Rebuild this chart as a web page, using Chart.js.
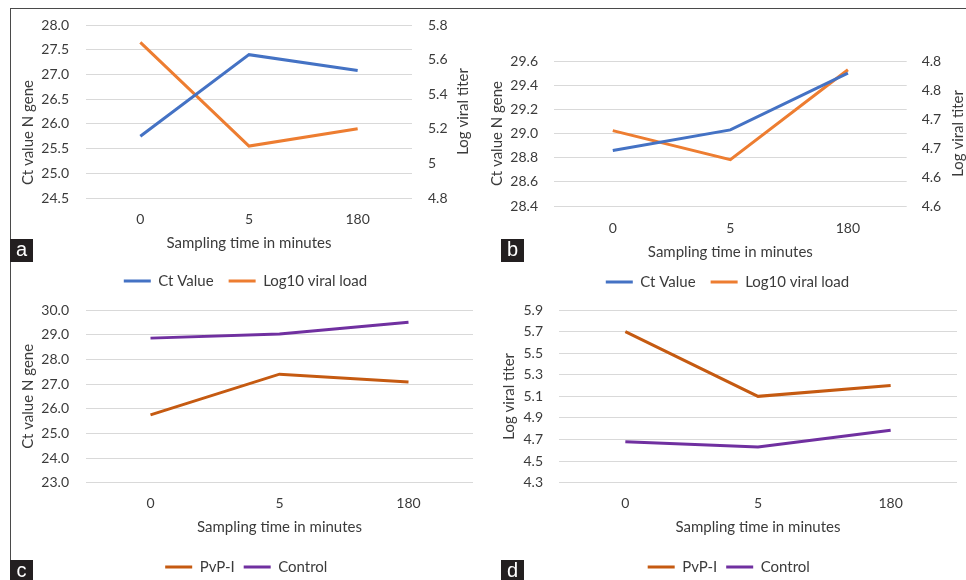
<!DOCTYPE html>
<html>
<head>
<meta charset="utf-8">
<script src="https://cdn.jsdelivr.net/npm/chart.js@4.4.1/dist/chart.umd.min.js"></script>
<style>
  html, body { margin: 0; padding: 0; background: #fff; }
  body { width: 966px; height: 580px; position: relative; overflow: hidden; }
  #frame { position: absolute; left: 10px; top: 8px; width: 970px; height: 590px;
           border-top: 1px solid #4a4a4a; border-left: 1px solid #4a4a4a; }
  canvas { position: absolute; }
  .tag { position: absolute; width: 23px; height: 23px; background: #231f20; color: #fff;
         font: 20px "Liberation Sans", Arial, sans-serif; line-height: 20px; text-align: center; }
</style>
</head>
<body>
<div id="frame"></div>
<canvas id="chartA" width="476" height="287" style="left:12px;top:10px"></canvas>
<canvas id="chartB" width="480" height="288" style="left:488px;top:10px"></canvas>
<canvas id="chartC" width="476" height="287" style="left:12px;top:296px"></canvas>
<canvas id="chartD" width="476" height="287" style="left:492px;top:296px"></canvas>
<div class="tag" style="left:10px;top:239px">a</div>
<div class="tag" style="left:501px;top:239px">b</div>
<div class="tag" style="left:10px;top:560px">c</div>
<div class="tag" style="left:501px;top:560px">d</div>
<script>
// sampling times (minutes)
const timeLabels = ['0', '5', '180'];

// PvP-I group
const ctPvpi = [25.75, 27.4, 27.08];
const logPvpi = [5.7, 5.1, 5.2];

// control group
const ctControl = [28.86, 29.03, 29.5];
const logControl = [4.68, 4.63, 4.785];

// y tick labels, bottom to top
const ctTicksA = ['24.5', '25.0', '25.5', '26.0', '26.5', '27.0', '27.5', '28.0'];
const logTicksA = ['4.8', '5', '5.2', '5.4', '5.6', '5.8'];
const ctTicksB = ['28.4', '28.6', '28.8', '29.0', '29.2', '29.4', '29.6'];
const logTicksB = ['4.6', '4.6', '4.7', '4.7', '4.8', '4.8'];
const ctTicksC = ['23.0', '24.0', '25.0', '26.0', '27.0', '28.0', '29.0', '30.0'];
const logTicksD = ['4.3', '4.5', '4.7', '4.9', '5.1', '5.3', '5.5', '5.7', '5.9'];

const BLUE = '#4472c4', ORANGE = '#ed7d31', RUST = '#c55a11', PURPLE = '#7030a0';
const TEXT = '#3b3b3b', GRID = '#d9d9d9';

Chart.defaults.font.family = 'Lato';
Chart.defaults.font.size = 14;
Chart.defaults.color = TEXT;

// y titles drawn by hand so the right one reads bottom-to-top like the left one
const sideTitles = {
  id: 'sideTitles',
  afterDraw(chart, args, opts) {
    const { ctx, chartArea } = chart;
    (opts.items || []).forEach(t => {
      const s = chart.scales[t.scale];
      const x = t.scale === 'y1' ? s.right - 8.4 : s.left + 8.4;
      const y = (chartArea.top + chartArea.bottom) / 2 + (t.dy || 0);
      ctx.save();
      ctx.font = '15px Lato';
      ctx.fillStyle = TEXT;
      ctx.textAlign = 'center';
      ctx.textBaseline = 'middle';
      ctx.translate(x, y);
      ctx.rotate(-Math.PI / 2);
      ctx.fillText(t.text, 0, 0);
      ctx.restore();
    });
  }
};

function series(label, data, color, axis) {
  return {
    label, data, yAxisID: axis,
    borderColor: color, backgroundColor: color,
    borderWidth: 3, pointRadius: 0, pointHoverRadius: 0,
    pointBorderWidth: 3, pointBorderColor: color,
    tension: 0
  };
}

function yScale(p, labels, min, max, step, width, pad, grid) {
  return {
    type: 'linear', position: p, min, max,
    grid: { display: grid, color: GRID, drawTicks: false },
    border: { display: false },
    ticks: { stepSize: step, padding: pad, autoSkip: false,
             callback: (v, i) => labels[i] },
    afterFit: s => { s.width = width; s.paddingTop = 0; s.paddingBottom = 0; }
  };
}

function xScale(height, pad, titlePad) {
  return {
    type: 'category', offset: true,
    grid: { display: false, drawTicks: false },
    border: { display: false },
    ticks: { padding: pad },
    title: { display: true, text: 'Sampling time in minutes', font: { size: 15, lineHeight: 1.12 },
             padding: { top: 0, bottom: titlePad } },
    afterFit: s => { s.height = height; s.paddingLeft = 0; s.paddingRight = 0; }
  };
}

function makeChart(id, datasets, scales, padding, legendPad, titles) {
  return new Chart(document.getElementById(id), {
    type: 'line',
    data: { labels: timeLabels, datasets },
    options: {
      responsive: false,
      animation: false,
      layout: { padding },
      scales,
      plugins: {
        legend: {
          position: 'bottom',
          labels: { usePointStyle: true, pointStyle: 'line', pointStyleWidth: 27,
                    boxHeight: 14, padding: legendPad, color: TEXT, font: { size: 15 } }
        },
        tooltip: { enabled: false },
        sideTitles: { items: titles }
      }
    },
    plugins: [sideTitles]
  });
}

// a: PvP-I, Ct and log titer
makeChart('chartA',
  [series('Ct Value', ctPvpi, BLUE, 'y'), series('Log10 viral load', logPvpi, ORANGE, 'y1')],
  {
    x: xScale(60.5, 13, 7.1),
    y: yScale('left', ctTicksA, 24.5, 28, 0.5, 66.4, 17, true),
    y1: yScale('right', logTicksA, 4.8, 5.8, 0.2, 59.4, 16, false)
  },
  { left: 7.6, right: 16.6, top: 15, bottom: -1.5 }, 15,
  [{ scale: 'y', text: 'Ct value N gene', dy: 21 }, { scale: 'y1', text: 'Log viral titer' }]);

// b: control, Ct and log titer
makeChart('chartB',
  [series('Ct Value', ctControl, BLUE, 'y'), series('Log10 viral load', logControl, ORANGE, 'y1')],
  {
    x: xScale(53.5, 14, -0.9),
    y: yScale('left', ctTicksB, 28.4, 29.6, 0.2, 65.4, 16, true),
    y1: yScale('right', logTicksB, 4.55, 4.8, 0.05, 59.7, 15, false)
  },
  { left: 0.6, right: 1.6, top: 51, bottom: -1.5 }, 15,
  [{ scale: 'y', text: 'Ct value N gene' }, { scale: 'y1', text: 'Log viral titer' }]);

// c: Ct, PvP-I vs control
makeChart('chartC',
  [series('PvP-I', ctPvpi, RUST, 'y'), series('Control', ctControl, PURPLE, 'y')],
  {
    x: xScale(67.8, 12.3, 15.1),
    y: yScale('left', ctTicksC, 23, 30, 1, 66.4, 17, true)
  },
  { left: 7.6, right: 15, top: 14, bottom: -1.5 }, 9,
  [{ scale: 'y', text: 'Ct value N gene' }]);

// d: log titer, PvP-I vs control
makeChart('chartD',
  [series('PvP-I', logPvpi, RUST, 'y'), series('Control', logControl, PURPLE, 'y')],
  {
    x: xScale(67.8, 12.3, 15.1),
    y: yScale('left', logTicksD, 4.3, 5.9, 0.2, 58.4, 16, true)
  },
  { left: 8.6, right: 11, top: 14, bottom: -1.5 }, 9,
  [{ scale: 'y', text: 'Log viral titer' }]);
</script>
</body>
</html>
